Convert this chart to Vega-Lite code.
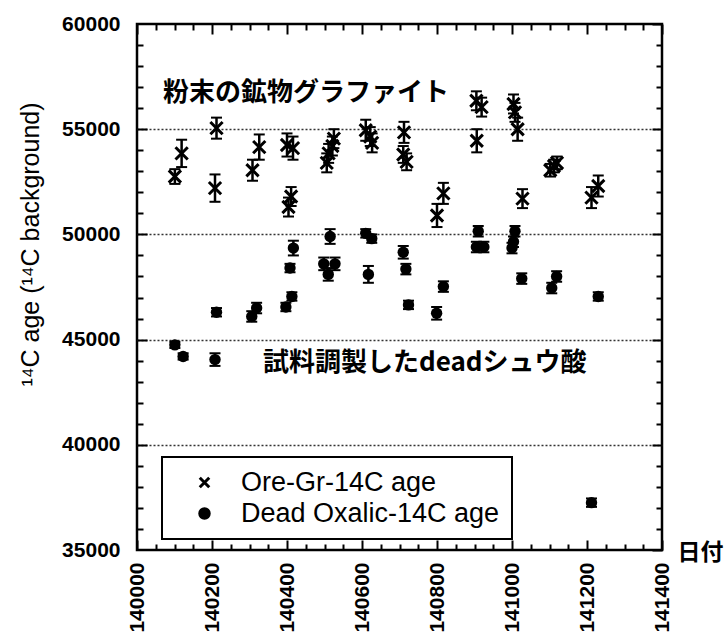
{
  "$schema": "https://vega.github.io/schema/vega-lite/v6.json",
  "width": 525,
  "height": 526,
  "autosize": "none",
  "padding": {"left": 137, "top": 24, "right": 62, "bottom": 85},
  "background": "white",
  "datasets": {
    "pts": [
      {"series": "Ore-Gr-14C age", "date": 140101, "age": 52750, "lo": 52400, "hi": 53100},
      {"series": "Ore-Gr-14C age", "date": 140119, "age": 53850, "lo": 53200, "hi": 54500},
      {"series": "Ore-Gr-14C age", "date": 140208, "age": 52200, "lo": 51550, "hi": 52850},
      {"series": "Ore-Gr-14C age", "date": 140212, "age": 55050, "lo": 54550, "hi": 55550},
      {"series": "Ore-Gr-14C age", "date": 140308, "age": 53050, "lo": 52550, "hi": 53550},
      {"series": "Ore-Gr-14C age", "date": 140326, "age": 54150, "lo": 53550, "hi": 54750},
      {"series": "Ore-Gr-14C age", "date": 140400, "age": 54250, "lo": 53700, "hi": 54800},
      {"series": "Ore-Gr-14C age", "date": 140416, "age": 54100, "lo": 53550, "hi": 54650},
      {"series": "Ore-Gr-14C age", "date": 140404, "age": 51300, "lo": 50850, "hi": 51750},
      {"series": "Ore-Gr-14C age", "date": 140411, "age": 51800, "lo": 51350, "hi": 52250},
      {"series": "Ore-Gr-14C age", "date": 140506, "age": 53400, "lo": 52950, "hi": 53850},
      {"series": "Ore-Gr-14C age", "date": 140511, "age": 53850, "lo": 53400, "hi": 54300},
      {"series": "Ore-Gr-14C age", "date": 140521, "age": 54200, "lo": 53750, "hi": 54650},
      {"series": "Ore-Gr-14C age", "date": 140525, "age": 54550, "lo": 54100, "hi": 55000},
      {"series": "Ore-Gr-14C age", "date": 140610, "age": 54950, "lo": 54450, "hi": 55450},
      {"series": "Ore-Gr-14C age", "date": 140622, "age": 54650, "lo": 54200, "hi": 55100},
      {"series": "Ore-Gr-14C age", "date": 140627, "age": 54350, "lo": 53900, "hi": 54800},
      {"series": "Ore-Gr-14C age", "date": 140712, "age": 54850, "lo": 54350, "hi": 55350},
      {"series": "Ore-Gr-14C age", "date": 140710, "age": 53800, "lo": 53400, "hi": 54200},
      {"series": "Ore-Gr-14C age", "date": 140719, "age": 53450, "lo": 53050, "hi": 53850},
      {"series": "Ore-Gr-14C age", "date": 140800, "age": 50900, "lo": 50350, "hi": 51450},
      {"series": "Ore-Gr-14C age", "date": 140817, "age": 51950, "lo": 51450, "hi": 52450},
      {"series": "Ore-Gr-14C age", "date": 140905, "age": 56350, "lo": 55900, "hi": 56800},
      {"series": "Ore-Gr-14C age", "date": 140919, "age": 56050, "lo": 55600, "hi": 56500},
      {"series": "Ore-Gr-14C age", "date": 140906, "age": 54450, "lo": 53900, "hi": 55000},
      {"series": "Ore-Gr-14C age", "date": 141004, "age": 56200, "lo": 55750, "hi": 56650},
      {"series": "Ore-Gr-14C age", "date": 141008, "age": 55800, "lo": 55350, "hi": 56250},
      {"series": "Ore-Gr-14C age", "date": 141015, "age": 55000, "lo": 54450, "hi": 55550},
      {"series": "Ore-Gr-14C age", "date": 141028, "age": 51700, "lo": 51250, "hi": 52150},
      {"series": "Ore-Gr-14C age", "date": 141102, "age": 53050, "lo": 52750, "hi": 53350},
      {"series": "Ore-Gr-14C age", "date": 141112, "age": 53250, "lo": 52950, "hi": 53550},
      {"series": "Ore-Gr-14C age", "date": 141120, "age": 53400, "lo": 53100, "hi": 53700},
      {"series": "Ore-Gr-14C age", "date": 141212, "age": 51750, "lo": 51250, "hi": 52250},
      {"series": "Ore-Gr-14C age", "date": 141230, "age": 52300, "lo": 51800, "hi": 52800},
      {"series": "Dead Oxalic-14C age", "date": 140101, "age": 44750, "lo": 44600, "hi": 44900},
      {"series": "Dead Oxalic-14C age", "date": 140123, "age": 44200, "lo": 44050, "hi": 44350},
      {"series": "Dead Oxalic-14C age", "date": 140208, "age": 44050, "lo": 43750, "hi": 44350},
      {"series": "Dead Oxalic-14C age", "date": 140212, "age": 46300, "lo": 46100, "hi": 46500},
      {"series": "Dead Oxalic-14C age", "date": 140306, "age": 46100, "lo": 45850, "hi": 46350},
      {"series": "Dead Oxalic-14C age", "date": 140319, "age": 46500, "lo": 46250, "hi": 46750},
      {"series": "Dead Oxalic-14C age", "date": 140397, "age": 46550, "lo": 46350, "hi": 46750},
      {"series": "Dead Oxalic-14C age", "date": 140413, "age": 47050, "lo": 46850, "hi": 47250},
      {"series": "Dead Oxalic-14C age", "date": 140408, "age": 48400, "lo": 48200, "hi": 48600},
      {"series": "Dead Oxalic-14C age", "date": 140417, "age": 49350, "lo": 49000, "hi": 49700},
      {"series": "Dead Oxalic-14C age", "date": 140515, "age": 49900, "lo": 49550, "hi": 50250},
      {"series": "Dead Oxalic-14C age", "date": 140498, "age": 48600, "lo": 48300, "hi": 48900},
      {"series": "Dead Oxalic-14C age", "date": 140528, "age": 48600, "lo": 48300, "hi": 48900},
      {"series": "Dead Oxalic-14C age", "date": 140510, "age": 48100, "lo": 47800, "hi": 48400},
      {"series": "Dead Oxalic-14C age", "date": 140610, "age": 50050, "lo": 49850, "hi": 50250},
      {"series": "Dead Oxalic-14C age", "date": 140626, "age": 49800, "lo": 49600, "hi": 50000},
      {"series": "Dead Oxalic-14C age", "date": 140617, "age": 48100, "lo": 47700, "hi": 48500},
      {"series": "Dead Oxalic-14C age", "date": 140710, "age": 49150, "lo": 48850, "hi": 49450},
      {"series": "Dead Oxalic-14C age", "date": 140717, "age": 48350, "lo": 48100, "hi": 48600},
      {"series": "Dead Oxalic-14C age", "date": 140724, "age": 46650, "lo": 46450, "hi": 46850},
      {"series": "Dead Oxalic-14C age", "date": 140799, "age": 46250, "lo": 45950, "hi": 46550},
      {"series": "Dead Oxalic-14C age", "date": 140817, "age": 47520, "lo": 47270, "hi": 47770},
      {"series": "Dead Oxalic-14C age", "date": 140910, "age": 50150, "lo": 49900, "hi": 50400},
      {"series": "Dead Oxalic-14C age", "date": 140905, "age": 49400, "lo": 49150, "hi": 49650},
      {"series": "Dead Oxalic-14C age", "date": 140925, "age": 49400, "lo": 49150, "hi": 49650},
      {"series": "Dead Oxalic-14C age", "date": 141008, "age": 50150, "lo": 49900, "hi": 50400},
      {"series": "Dead Oxalic-14C age", "date": 141004, "age": 49650, "lo": 49400, "hi": 49900},
      {"series": "Dead Oxalic-14C age", "date": 141000, "age": 49350, "lo": 49100, "hi": 49600},
      {"series": "Dead Oxalic-14C age", "date": 141026, "age": 47900, "lo": 47650, "hi": 48150},
      {"series": "Dead Oxalic-14C age", "date": 141106, "age": 47450, "lo": 47200, "hi": 47700},
      {"series": "Dead Oxalic-14C age", "date": 141119, "age": 48000, "lo": 47750, "hi": 48250},
      {"series": "Dead Oxalic-14C age", "date": 141230, "age": 47050, "lo": 46850, "hi": 47250},
      {"series": "Dead Oxalic-14C age", "date": 141212, "age": 37250, "lo": 37050, "hi": 37450}
    ],
    "notes": [
      {"note": "粉末の鉱物グラファイト", "date": 140069, "age": 56720},
      {"note": "試料調製したdeadシュウ酸", "date": 140336, "age": 43888}
    ]
  },
  "resolve": {"axis": {"x": "independent", "y": "independent"}},
  "layer": [
    {
      "data": {"values": []},
      "mark": "point",
      "encoding": {
        "x": {"field": "date", "type": "quantitative",
          "scale": {"domain": [140000, 141400], "nice": false, "zero": false},
          "axis": {"orient": "bottom", "values": [140000, 140200, 140400, 140600, 140800, 141000, 141200, 141400],
            "ticks": false, "domain": false, "grid": false, "format": "d",
            "labelAngle": 270, "labelAlign": "right", "labelBaseline": "middle", "labelPadding": 12,
            "title": "日付", "titleX": 540, "titleY": 2, "titleAlign": "left", "titleBaseline": "middle", "titleAngle": 0,
            "titleFont": "Noto Sans CJK JP", "titleFontSize": 23, "titleFontWeight": "bold", "titleColor": "black"}},
        "y": {"field": "age", "type": "quantitative",
          "scale": {"domain": [35000, 60000], "nice": false, "zero": false},
          "axis": {"orient": "left", "values": [35000, 40000, 45000, 50000, 55000, 60000],
            "ticks": false, "domain": false, "grid": false, "labelPadding": 17, "format": "d",
            "title": "¹⁴C age (¹⁴C background)", "titleX": -107, "titleY": 220, "titleAngle": 270,
            "titleAlign": "center", "titleBaseline": "middle",
            "titleFont": "Liberation Sans", "titleFontSize": 25, "titleFontWeight": "normal", "titleColor": "black"}}
      }
    },
    {
      "data": {"values": []},
      "mark": "point",
      "encoding": {
        "x": {"field": "date", "type": "quantitative",
          "scale": {"domain": [140000, 141400], "nice": false, "zero": false},
          "axis": {"orient": "bottom", "values": [140000, 140200, 140400, 140600, 140800, 141000, 141200, 141400],
            "labels": false, "domain": false, "grid": false, "tickSize": -10, "title": null}},
        "y": {"field": "age", "type": "quantitative",
          "scale": {"domain": [35000, 60000], "nice": false, "zero": false},
          "axis": {"orient": "left", "values": [40000, 45000, 50000, 55000],
            "labels": false, "domain": false, "grid": true, "tickSize": -10, "title": null,
            "gridColor": "#333333", "gridDash": [2, 2], "gridWidth": 1.5, "gridOpacity": 1}}
      }
    },
    {
      "data": {"values": []},
      "mark": "point",
      "encoding": {
        "x": {"field": "date", "type": "quantitative",
          "scale": {"domain": [140000, 141400], "nice": false, "zero": false},
          "axis": {"orient": "bottom", "values": [140050, 140100, 140150, 140250, 140300, 140350, 140450, 140500, 140550, 140650, 140700, 140750, 140850, 140900, 140950, 141050, 141100, 141150, 141250, 141300, 141350],
            "labels": false, "domain": false, "grid": false, "tickSize": -6, "title": null}},
        "y": {"field": "age", "type": "quantitative",
          "scale": {"domain": [35000, 60000], "nice": false, "zero": false},
          "axis": {"orient": "left", "values": [36000, 37000, 38000, 39000, 41000, 42000, 43000, 44000, 46000, 47000, 48000, 49000, 51000, 52000, 53000, 54000, 56000, 57000, 58000, 59000],
            "labels": false, "domain": false, "grid": false, "tickSize": -6, "title": null}}
      }
    },
    {
      "data": {"values": []},
      "mark": "point",
      "encoding": {
        "x": {"field": "date", "type": "quantitative",
          "scale": {"domain": [140000, 141400], "nice": false, "zero": false},
          "axis": {"orient": "top", "values": [140000, 140200, 140400, 140600, 140800, 141000, 141200, 141400],
            "labels": false, "domain": false, "grid": false, "tickSize": -10, "title": null}},
        "y": {"field": "age", "type": "quantitative",
          "scale": {"domain": [35000, 60000], "nice": false, "zero": false},
          "axis": {"orient": "right", "values": [35000, 40000, 45000, 50000, 55000, 60000],
            "labels": false, "domain": false, "grid": false, "tickSize": -10, "title": null}}
      }
    },
    {
      "data": {"values": []},
      "mark": "point",
      "encoding": {
        "x": {"field": "date", "type": "quantitative",
          "scale": {"domain": [140000, 141400], "nice": false, "zero": false},
          "axis": {"orient": "top", "values": [140050, 140100, 140150, 140250, 140300, 140350, 140450, 140500, 140550, 140650, 140700, 140750, 140850, 140900, 140950, 141050, 141100, 141150, 141250, 141300, 141350],
            "labels": false, "domain": false, "grid": false, "tickSize": -6, "title": null}},
        "y": {"field": "age", "type": "quantitative",
          "scale": {"domain": [35000, 60000], "nice": false, "zero": false},
          "axis": {"orient": "right", "values": [36000, 37000, 38000, 39000, 41000, 42000, 43000, 44000, 46000, 47000, 48000, 49000, 51000, 52000, 53000, 54000, 56000, 57000, 58000, 59000],
            "labels": false, "domain": false, "grid": false, "tickSize": -6, "title": null}}
      }
    },
    {
      "data": {"name": "pts"},
      "mark": {"type": "rule", "color": "black", "strokeWidth": 2.5, "opacity": 1},
      "encoding": {
        "x": {"field": "date", "type": "quantitative", "scale": {"domain": [140000, 141400], "nice": false, "zero": false}, "axis": null},
        "y": {"field": "lo", "type": "quantitative", "scale": {"domain": [35000, 60000], "nice": false, "zero": false}, "axis": null},
        "y2": {"field": "hi"}
      }
    },
    {
      "data": {"name": "pts"},
      "transform": [{"fold": ["lo", "hi"], "as": ["end", "bound"]}],
      "mark": {"type": "tick", "orient": "horizontal", "color": "black", "size": 11, "thickness": 2, "opacity": 1},
      "encoding": {
        "x": {"field": "date", "type": "quantitative", "scale": {"domain": [140000, 141400], "nice": false, "zero": false}, "axis": null},
        "y": {"field": "bound", "type": "quantitative", "scale": {"domain": [35000, 60000], "nice": false, "zero": false}, "axis": null}
      }
    },
    {
      "data": {"name": "pts"},
      "transform": [{"filter": "datum.series === 'Ore-Gr-14C age'"}],
      "mark": {"type": "point", "filled": true, "strokeWidth": 3, "size": 150, "opacity": 1},
      "encoding": {
        "x": {"field": "date", "type": "quantitative", "scale": {"domain": [140000, 141400], "nice": false, "zero": false}, "axis": null},
        "y": {"field": "age", "type": "quantitative", "scale": {"domain": [35000, 60000], "nice": false, "zero": false}, "axis": null},
        "shape": {"field": "series", "type": "nominal",
          "scale": {"domain": ["Ore-Gr-14C age", "Dead Oxalic-14C age"], "range": ["M-1,-1L1,1M1,-1L-1,1", "circle"]},
          "legend": {"orient": "none", "legendX": 25, "legendY": 433, "title": null}},
        "fill": {"field": "series", "type": "nominal",
          "scale": {"domain": ["Ore-Gr-14C age", "Dead Oxalic-14C age"], "range": ["black", "black"]},
          "legend": {"orient": "none", "legendX": 25, "legendY": 433, "title": null}},
        "stroke": {"field": "series", "type": "nominal",
          "scale": {"domain": ["Ore-Gr-14C age", "Dead Oxalic-14C age"], "range": ["black", "black"]},
          "legend": {"orient": "none", "legendX": 25, "legendY": 433, "title": null}}
      }
    },
    {
      "data": {"name": "pts"},
      "transform": [{"filter": "datum.series === 'Dead Oxalic-14C age'"}],
      "mark": {"type": "point", "filled": true, "strokeWidth": 0, "size": 130, "opacity": 1},
      "encoding": {
        "x": {"field": "date", "type": "quantitative", "scale": {"domain": [140000, 141400], "nice": false, "zero": false}, "axis": null},
        "y": {"field": "age", "type": "quantitative", "scale": {"domain": [35000, 60000], "nice": false, "zero": false}, "axis": null},
        "shape": {"field": "series", "type": "nominal",
          "scale": {"domain": ["Ore-Gr-14C age", "Dead Oxalic-14C age"], "range": ["M-1,-1L1,1M1,-1L-1,1", "circle"]},
          "legend": {"orient": "none", "legendX": 25, "legendY": 433, "title": null}},
        "fill": {"field": "series", "type": "nominal",
          "scale": {"domain": ["Ore-Gr-14C age", "Dead Oxalic-14C age"], "range": ["black", "black"]},
          "legend": {"orient": "none", "legendX": 25, "legendY": 433, "title": null}},
        "stroke": {"field": "series", "type": "nominal",
          "scale": {"domain": ["Ore-Gr-14C age", "Dead Oxalic-14C age"], "range": ["black", "black"]},
          "legend": {"orient": "none", "legendX": 25, "legendY": 433, "title": null}}
      }
    },
    {
      "data": {"name": "notes"},
      "mark": {"type": "text", "font": "Noto Sans CJK JP", "fontSize": 26, "fontWeight": "bold", "align": "left", "baseline": "middle", "color": "black"},
      "encoding": {
        "x": {"field": "date", "type": "quantitative", "scale": {"domain": [140000, 141400], "nice": false, "zero": false}, "axis": null},
        "y": {"field": "age", "type": "quantitative", "scale": {"domain": [35000, 60000], "nice": false, "zero": false}, "axis": null},
        "text": {"field": "note", "type": "nominal"}
      }
    }
  ],
  "config": {
    "view": {"stroke": "black", "strokeWidth": 2.5},
    "axis": {
      "labelFont": "Liberation Sans", "labelFontSize": 21, "labelFontWeight": "bold", "labelColor": "black",
      "tickColor": "black", "tickWidth": 2, "labelOverlap": false, "labelFlush": false
    },
    "legend": {
      "labelFont": "Liberation Sans", "labelFontSize": 27, "labelColor": "black", "labelLimit": 400,
      "padding": 12, "symbolOffset": 17, "labelOffset": 23, "rowPadding": 3,
      "symbolSize": 90, "symbolStrokeWidth": 3, "symbolOpacity": 1,
      "strokeColor": "black", "strokeWidth": 2
    }
  }
}
